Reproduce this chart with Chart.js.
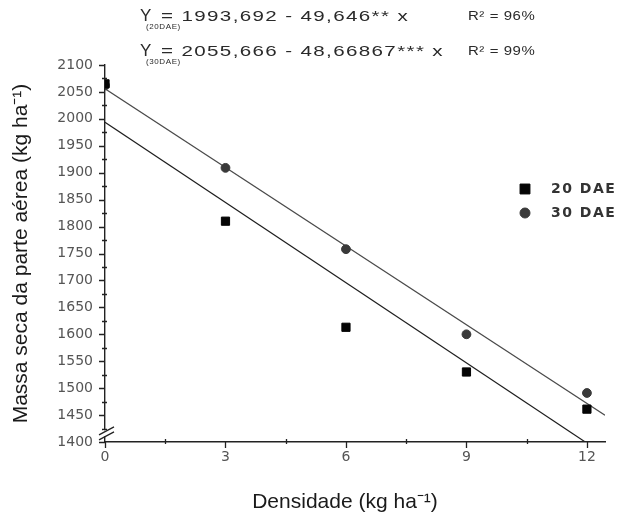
<!DOCTYPE html>
<html>
<head>
<meta charset="utf-8">
<script src="https://cdn.jsdelivr.net/npm/chart.js@4.4.1/dist/chart.umd.min.js"></script>
<style>
  html, body { margin: 0; padding: 0; background: #fff; }
  #wrap { width: 620px; height: 515px; }
</style>
</head>
<body>
<div id="wrap"><canvas id="massaChart"></canvas></div>
<script>
// Densidade de semeadura (kg ha-1)
const densidade = [0, 3, 6, 9, 12];

// Massa seca da parte aérea observada (kg ha-1)
const massa20DAE = [2065, 1810, 1613, 1530, 1461];
const massa30DAE = [2062, 1909, 1758, 1600, 1491];

// Retas ajustadas: [intercepto, inclinação]
const reta20DAE = [1993.692, -49.646];
const reta30DAE = [2055.666, -48.66867];
const retaX = [0, 12.45];

// Rótulos dos eixos
const xTicks = [0, 3, 6, 9, 12];
const yTicks = [1400, 1450, 1500, 1550, 1600, 1650, 1700, 1750, 1800, 1850, 1900, 1950, 2000, 2050, 2100];

// Equações exibidas no topo
const eqSubscritos = ['(20DAE)', '(30DAE)'];
const eqTextos = ['= 1993,692 - 49,646** x', '= 2055,666 - 48,66867*** x'];
const eqR2 = ['R² = 96%', 'R² = 99%'];

const serieNomes = ['20 DAE', '30 DAE'];
const tituloX = 'Densidade (kg ha⁻¹)';
const tituloY = 'Massa seca da parte aérea (kg ha⁻¹)';

function pontos(xs, ys) {
  return xs.map((x, i) => ({ x: x, y: ys[i] }));
}

function reta(coef) {
  return retaX.map(x => ({ x: x, y: coef[0] + coef[1] * x }));
}

const estiloPontos = [
  { pointStyle: 'rect', radius: 5.8, color: '#050505' },
  { pointStyle: 'circle', radius: 4.4, color: '#3a3a3a' }
];

// Ticks, quebra do eixo, legenda, título do eixo x e equações
const desenhoExtra = {
  id: 'desenhoExtra',
  beforeDraw(chart) {
    const ctx = chart.ctx;
    ctx.save();
    ctx.fillStyle = '#ffffff';
    ctx.fillRect(0, 0, chart.width, chart.height);
    ctx.restore();
  },
  afterDraw(chart) {
    const { ctx, chartArea, scales: { x, y } } = chart;
    const left = chartArea.left;
    const bottom = chartArea.bottom;
    ctx.save();

    ctx.strokeStyle = '#222';
    ctx.lineWidth = 1.3;
    ctx.beginPath();
    for (let v = y.min; v <= y.max; v += 25) {
      const py = Math.round(y.getPixelForValue(v)) + 0.5;
      const major = (v - y.min) % 50 === 0;
      ctx.moveTo(left - (major ? 6 : 3), py);
      ctx.lineTo(left + (major ? 0 : 2), py);
    }
    for (let v = 0; v <= 12; v += 1.5) {
      const px = Math.round(x.getPixelForValue(v)) + 0.5;
      const major = v % 3 === 0;
      ctx.moveTo(px, bottom + (major ? 6 : 2));
      ctx.lineTo(px, bottom - (major ? 0 : 3));
    }
    ctx.stroke();

    // quebra do eixo y
    const yq = y.getPixelForValue(1416);
    ctx.fillStyle = '#fff';
    ctx.fillRect(left - 2, yq - 3, 4, 6);
    ctx.beginPath();
    [-2.5, 2.5].forEach(d => {
      ctx.moveTo(left - 6, yq + d + 4);
      ctx.lineTo(left + 9, yq + d - 4);
    });
    ctx.lineWidth = 1.3;
    ctx.stroke();

    // legenda
    ctx.font = 'bold 14px "DejaVu Sans"';
    ctx.letterSpacing = '1.5px';
    ctx.textBaseline = 'middle';
    const legY = [189, 213];
    const legRaio = [7, 5];
    serieNomes.forEach((nome, i) => {
      const st = estiloPontos[i];
      ctx.fillStyle = st.color;
      ctx.strokeStyle = st.color;
      ctx.lineWidth = 1;
      Chart.helpers.drawPoint(ctx, { pointStyle: st.pointStyle, radius: legRaio[i], rotation: 0, borderWidth: 1 }, 525, legY[i]);
      ctx.fillStyle = '#333';
      ctx.fillText(nome, 551, legY[i]);
    });

    // título do eixo x
    ctx.letterSpacing = '0px';
    ctx.fillStyle = '#1a1a1a';
    ctx.font = '21px "Liberation Sans"';
    ctx.textAlign = 'center';
    ctx.fillText(tituloX, 345, 502);
    ctx.textAlign = 'left';

    // equações (texto levemente alargado)
    ctx.textBaseline = 'alphabetic';
    ctx.fillStyle = '#2a2a2a';
    const bases = [21, 56];
    bases.forEach((b, i) => {
      ctx.letterSpacing = '0px';
      ctx.font = '17px "Liberation Sans"';
      ctx.fillText('Y', 140, b);
      ctx.font = '8px "Liberation Sans"';
      ctx.letterSpacing = '0.6px';
      ctx.fillText(eqSubscritos[i], 146, b + 8);
      ctx.save();
      ctx.translate(161, b);
      ctx.scale(1.37, 1);
      ctx.font = '15px "Liberation Sans"';
      ctx.letterSpacing = '1px';
      ctx.fillText(eqTextos[i], 0, 0);
      ctx.restore();
      ctx.save();
      ctx.translate(468, b - 1);
      ctx.scale(1.15, 1);
      ctx.font = '13px "Liberation Sans"';
      ctx.letterSpacing = '0.5px';
      ctx.fillText(eqR2[i], 0, 0);
      ctx.restore();
    });

    ctx.restore();
  }
};

const ctx = document.getElementById('massaChart').getContext('2d');
new Chart(ctx, {
  type: 'scatter',
  data: {
    datasets: [
      {
        label: serieNomes[0],
        data: pontos(densidade, massa20DAE),
        pointStyle: estiloPontos[0].pointStyle,
        pointRadius: estiloPontos[0].radius,
        backgroundColor: estiloPontos[0].color,
        borderColor: estiloPontos[0].color,
        borderWidth: 1,
        clip: { left: 0, top: 5, right: 5, bottom: 5 }
      },
      {
        label: serieNomes[1],
        data: pontos(densidade, massa30DAE),
        pointStyle: estiloPontos[1].pointStyle,
        pointRadius: estiloPontos[1].radius,
        backgroundColor: estiloPontos[1].color,
        borderColor: estiloPontos[1].color,
        borderWidth: 1,
        clip: { left: 0, top: 5, right: 5, bottom: 5 }
      },
      {
        label: 'Ajuste 20 DAE',
        data: reta(reta20DAE),
        showLine: true,
        pointRadius: 0,
        borderColor: '#1e1e1e',
        borderWidth: 1.2
      },
      {
        label: 'Ajuste 30 DAE',
        data: reta(reta30DAE),
        showLine: true,
        pointRadius: 0,
        borderColor: '#4a4a4a',
        borderWidth: 1.2
      }
    ]
  },
  options: {
    responsive: true,
    maintainAspectRatio: false,
    animation: false,
    layout: { padding: { top: 65, right: 15, left: 0, bottom: 0 } },
    plugins: {
      legend: { display: false },
      tooltip: { enabled: false }
    },
    scales: {
      x: {
        type: 'linear',
        min: 0,
        max: 12.45,
        afterBuildTicks: scale => { scale.ticks = xTicks.map(v => ({ value: v })); },
        afterFit: scale => { scale.height = 73; },
        grid: { display: false, drawTicks: false },
        border: { display: true, color: '#222', width: 1.4 },
        ticks: {
          padding: 7,
          color: '#555',
          font: { family: 'DejaVu Sans', size: 14 },
          callback: v => String(v)
        }
      },
      y: {
        type: 'linear',
        min: 1400,
        max: 2100,
        afterBuildTicks: scale => { scale.ticks = yTicks.map(v => ({ value: v })); },
        afterFit: scale => { scale.width = 105; },
        grid: { display: false, drawTicks: false },
        border: { display: true, color: '#222', width: 1.4 },
        ticks: {
          padding: 12,
          color: '#555',
          font: { family: 'DejaVu Sans', size: 14 },
          callback: v => String(v)
        },
        title: {
          display: true,
          text: tituloY,
          color: '#1a1a1a',
          font: { family: 'Liberation Sans', size: 21 },
          padding: { top: 9, bottom: 0 }
        }
      }
    }
  },
  plugins: [desenhoExtra]
});
</script>
</body>
</html>
